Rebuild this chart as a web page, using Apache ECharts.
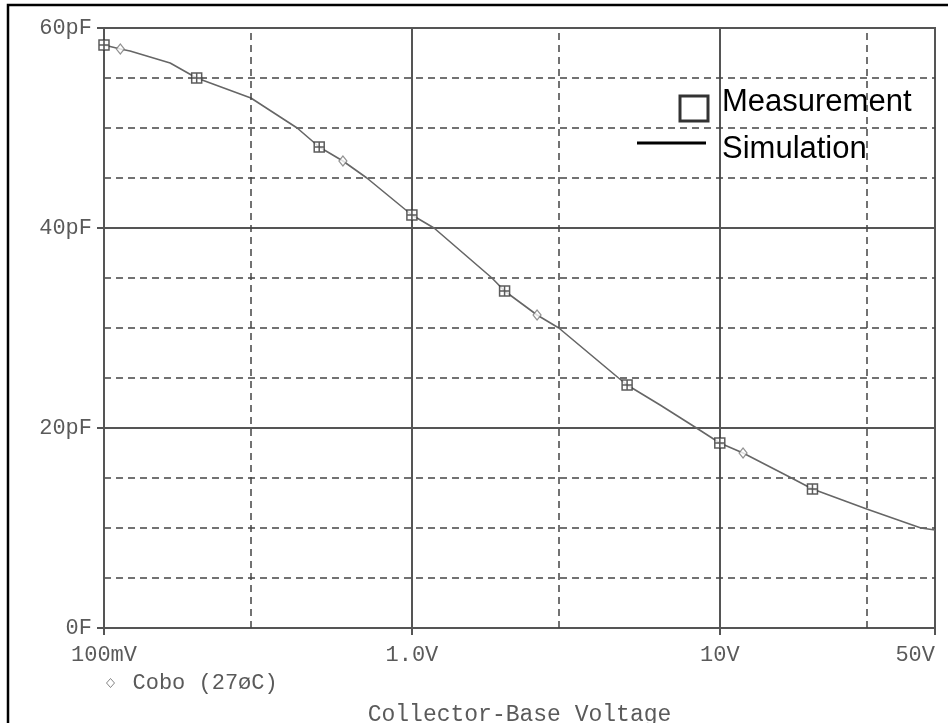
<!DOCTYPE html>
<html>
<head>
<meta charset="utf-8">
<script src="https://cdn.jsdelivr.net/npm/echarts@6/dist/echarts.min.js"></script>
<style>
html,body{margin:0;padding:0;background:#fff;overflow:hidden;}
#chart{width:948px;height:723px;}
</style>
</head>
<body>
<div id="chart"></div>
<script>
// Measurement points (V, pF)
var measV = [0.1, 0.2, 0.5, 1, 2, 5, 10, 20];
var measC = [58.3, 55.0, 48.1, 41.3, 33.7, 24.3, 18.5, 13.9];
// Simulation curve (V, pF)
var simV = [0.1, 0.113, 0.1215, 0.164, 0.2, 0.3, 0.424, 0.5, 0.597, 0.714, 1.0, 1.18, 1.82, 2, 2.55, 3, 4.69, 5, 6.4, 8.4, 10, 11.9, 17.1, 20, 30, 45, 50];
var simC = [58.3, 57.9, 57.7, 56.5, 55.0, 53.0, 50.0, 48.1, 46.7, 45.0, 41.3, 40.0, 35.0, 33.7, 31.3, 30.0, 25.0, 24.3, 22.3, 20.0, 18.5, 17.5, 15.0, 13.9, 11.9, 10.0, 9.8];
// Trace markers (diamonds) on the simulation curve
var cobV = [0.113, 0.597, 2.55, 11.9];
var cobC = [57.9, 46.7, 31.3, 17.5];
// Dashed vertical grid positions
var minorV = [0.3, 3, 30];
// Tick labels
var xLabels = {"0.1": "100mV", "1": "1.0V", "10": "10V", "50": "50V"};

function zip(a, b) { return a.map(function (v, i) { return [v, b[i]]; }); }

var mono = "'Liberation Mono', 'DejaVu Sans Mono', monospace";
var sans = "'Liberation Sans', Arial, sans-serif";
var txtCol = '#5a5a5a';
var gridCol = '#555';
var noText = function () { return ''; };

var chart = echarts.init(document.getElementById('chart'), null, {renderer: 'canvas'});
chart.setOption({
  animation: false,
  backgroundColor: '#fff',
  graphic: [{
    type: 'rect', silent: true, z: 100,
    shape: {x: 8, y: 5, width: 980, height: 760},
    style: {fill: 'none', stroke: '#000', lineWidth: 2.5}
  }],
  grid: {left: 104, top: 28, width: 831, height: 600, show: true, borderColor: gridCol, borderWidth: 2,
         containLabel: false, outerBoundsMode: 'none'},
  legend: [{
    // Measurement icon
    data: ['Measurement'], left: 678.5, top: 94.5, orient: 'vertical', padding: 0,
    itemWidth: 28, itemHeight: 25, icon: 'rect', formatter: noText,
    itemStyle: {color: 'transparent', borderColor: '#000', borderWidth: 3},
    textStyle: {fontSize: 1}
  }, {
    // Measurement text
    data: ['Measurement'], left: 717, top: 87, orient: 'vertical', padding: 0,
    itemWidth: 0, itemHeight: 0, icon: 'none',
    textStyle: {fontFamily: sans, fontSize: 31, color: '#000'}
  }, {
    // Simulation icon
    data: ['Simulation'], left: 637, top: 141.5, orient: 'vertical', padding: 0,
    itemWidth: 69, itemHeight: 3, icon: 'rect', formatter: noText,
    itemStyle: {color: '#000', borderWidth: 0}, lineStyle: {width: 0},
    textStyle: {fontSize: 1}
  }, {
    // Simulation text
    data: ['Simulation'], left: 717, top: 133.5, orient: 'vertical', padding: 0,
    itemWidth: 0, itemHeight: 0, icon: 'none',
    textStyle: {fontFamily: sans, fontSize: 31, color: '#000'}
  }, {
    data: ['Cobo (27øC)'], left: 106, top: 672, orient: 'vertical', padding: 0,
    itemWidth: 8, itemHeight: 9, icon: 'diamond',
    itemStyle: {color: '#fff', borderColor: '#666', borderWidth: 1},
    textStyle: {fontFamily: mono, fontSize: 22, color: txtCol, padding: [0, 0, 0, 13]}
  }],
  xAxis: {
    type: 'log', logBase: 10, min: 0.1, max: 50,
    name: 'Collector-Base Voltage', nameLocation: 'middle', nameGap: 75,
    nameTextStyle: {fontFamily: mono, fontSize: 23, color: txtCol},
    axisLine: {lineStyle: {color: gridCol, width: 2}},
    axisTick: {show: true, length: 7, lineStyle: {color: gridCol, width: 2}},
    axisLabel: {
      fontFamily: mono, fontSize: 22, color: txtCol, margin: 16,
      showMaxLabel: true, alignMaxLabel: 'right',
      formatter: function (v) {
        var k = String(+v.toPrecision(6));
        return xLabels[k] !== undefined ? xLabels[k] : '';
      }
    },
    splitLine: {show: true, lineStyle: {color: gridCol, width: 2}},
    minorTick: {show: false}, minorSplitLine: {show: false}
  },
  yAxis: [{
    type: 'value', min: 0, max: 60, interval: 20,
    axisLine: {show: true, lineStyle: {color: gridCol, width: 2}},
    axisTick: {show: true, length: 7, lineStyle: {color: gridCol, width: 2}},
    axisLabel: {
      fontFamily: mono, fontSize: 22, color: txtCol, margin: 12,
      formatter: function (v) { return v === 0 ? '0F' : v + 'pF'; }
    },
    splitLine: {show: true, lineStyle: {color: gridCol, width: 2}},
    z: 3
  }, {
    type: 'value', min: 0, max: 60, interval: 5, position: 'left',
    axisLine: {show: false}, axisTick: {show: false}, axisLabel: {show: false},
    splitLine: {show: true, lineStyle: {color: '#444', width: 1.5, type: [7, 5]}},
    z: 1
  }],
  series: [{
    name: 'grid-v', type: 'line', data: [], silent: true,
    markLine: {
      silent: true, symbol: ['none', 'none'], label: {show: false},
      lineStyle: {color: '#444', width: 1.5, type: [7, 5]},
      data: minorV.map(function (v) { return {xAxis: v}; })
    }
  }, {
    name: 'Simulation', type: 'line', data: zip(simV, simC),
    showSymbol: false, smooth: false,
    lineStyle: {color: '#666', width: 1.6}, itemStyle: {color: '#000'}, z: 4
  }, {
    name: 'Cobo (27øC)', type: 'scatter', data: zip(cobV, cobC),
    symbol: 'diamond', symbolSize: [8, 10],
    itemStyle: {color: '#fff', borderColor: '#777', borderWidth: 1.2}, z: 5
  }, {
    name: 'Measurement', type: 'scatter', data: zip(measV, measC),
    symbol: 'path://M0,0H10V10H0ZM5,0V10M0,5H10', symbolSize: 10,
    itemStyle: {color: '#fff', borderColor: '#333', borderWidth: 1.5}, z: 6
  }]
});
</script>
</body>
</html>
